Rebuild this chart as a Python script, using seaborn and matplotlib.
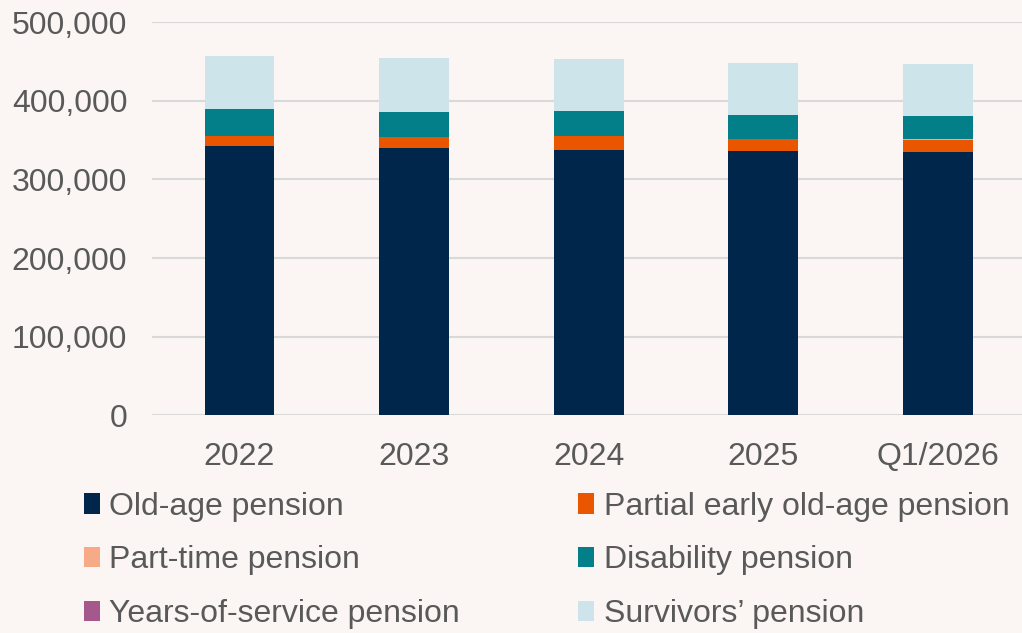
import matplotlib
matplotlib.use("Agg")
import matplotlib.pyplot as plt
import seaborn as sns
import numpy as np
import pandas as pd
from matplotlib.patches import Patch
from matplotlib.ticker import FuncFormatter

categories = ["2022", "2023", "2024", "2025", "Q1/2026"]
old_age = [343000, 339500, 337000, 335500, 334300]
partial_early = [12000, 14500, 18000, 15500, 16000]
part_time = [500, 500, 500, 500, 500]
disability = [34000, 31500, 31500, 30500, 29700]
years_of_service = [300, 300, 300, 300, 300]
survivors = [67500, 68300, 66000, 66000, 66000]

series_names = ["Old-age pension", "Partial early old-age pension", "Part-time pension",
                "Disability pension", "Years-of-service pension", "Survivors\u2019 pension"]
series_vals = [old_age, partial_early, part_time, disability, years_of_service, survivors]
colors = ["#00274B", "#EA5600", "#F7AA86", "#037F8A", "#A5588C", "#CDE5EA"]

bg = "#FBF6F3"
text_c = "#595959"

sns.set_theme(style="white")
plt.rcParams["font.family"] = ["Liberation Sans", "DejaVu Sans"]

fig = plt.figure(figsize=(10.22, 6.33), dpi=100, facecolor=bg)
ax = fig.add_axes([0.149, 0.344, 0.854, 0.621])
ax.set_facecolor(bg)

cum = np.cumsum(np.array(series_vals), axis=0)
for i in range(len(series_names) - 1, -1, -1):
    df = pd.DataFrame({"cat": categories, "val": cum[i]})
    sns.barplot(data=df, x="cat", y="val", color=colors[i], saturation=1,
                width=0.4, ax=ax, edgecolor="none", linewidth=0, zorder=3)

ax.set_ylim(0, 500000)
ax.set_xlim(-0.5, 4.5)
ax.set_yticks(np.arange(0, 500001, 100000))
ax.yaxis.set_major_formatter(FuncFormatter(lambda v, p: f"{int(v):,}"))
ax.grid(axis="y", color="#D9D9D9", linewidth=1.5, zorder=0)
ax.set_axisbelow(True)
for s in ax.spines.values():
    s.set_visible(False)
ax.set_xlabel("")
ax.set_ylabel("")
ax.tick_params(axis="both", length=0, labelsize=23, colors=text_c)
ax.tick_params(axis="y", pad=18)
ax.tick_params(axis="x", pad=19)

order = [0, 2, 4, 1, 3, 5]
handles = [Patch(facecolor=colors[i], edgecolor="none") for i in order]
labels = [series_names[i] for i in order]
leg = fig.legend(handles, labels, ncol=2, loc="upper left", bbox_to_anchor=(0.082, 0.223),
                 frameon=False, fontsize=23, handlelength=0.5, handleheight=0.6,
                 handletextpad=0.3, columnspacing=3.7, labelspacing=0.74, labelcolor=text_c,
                 borderaxespad=0, borderpad=0)

fig.savefig("out.png", dpi=100, facecolor=bg)
